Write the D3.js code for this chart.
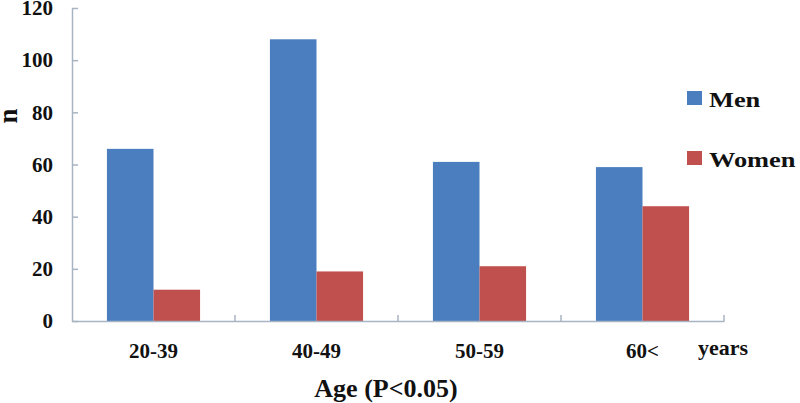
<!DOCTYPE html>
<html>
<head>
<meta charset="utf-8">
<script src="https://cdn.jsdelivr.net/npm/d3@7"></script>
<style>
  body { margin: 0; background: #fff; }
  svg text { font-family: "Liberation Serif", "Times New Roman", serif; font-weight: bold; fill: #111; }
</style>
</head>
<body>
<svg id="chart" width="800" height="403"></svg>
<script>
var categories = ["20-39", "40-49", "50-59", "60<"];
var series = ["Men", "Women"];
var men = [66, 108, 61, 59];
var women = [12, 19, 21, 44];
var yTicks = [0, 20, 40, 60, 80, 100, 120];
var colors = ["#4a7ebf", "#c0504d"];

var svg = d3.select("#chart");
var plotLeft = 72, plotRight = 724, plotTop = 8, plotBottom = 321;
var axisColor = "#a9b4c2";

var x0 = d3.scaleBand().domain(categories).range([plotLeft, plotRight]);
var x1 = d3.scaleBand().domain(series).range([0, x0.bandwidth()]).paddingOuter(0.75);
var y = d3.scaleLinear().domain([0, 120]).range([plotBottom, plotTop]);
var color = d3.scaleOrdinal().domain(series).range(colors);

var rows = categories.map(function (c, i) {
  return { cat: c, values: [{ s: "Men", v: men[i] }, { s: "Women", v: women[i] }] };
});

// bars
svg.append("g")
  .selectAll("g")
  .data(rows)
  .enter()
  .append("g")
  .attr("transform", function (d) { return "translate(" + x0(d.cat) + ",0)"; })
  .selectAll("rect")
  .data(function (d) { return d.values; })
  .enter()
  .append("rect")
  .attr("x", function (d) { return x1(d.s); })
  .attr("y", function (d) { return y(d.v); })
  .attr("width", x1.bandwidth())
  .attr("height", function (d) { return plotBottom - y(d.v); })
  .attr("fill", function (d) { return color(d.s); });

// y axis
var yAxis = svg.append("g")
  .attr("transform", "translate(" + plotLeft + ",0)")
  .call(d3.axisLeft(y).tickValues(yTicks).tickSizeInner(-6).tickSizeOuter(0));
yAxis.select(".domain").attr("stroke", axisColor).attr("stroke-width", 1.5);
yAxis.selectAll(".tick line").attr("stroke", axisColor).attr("stroke-width", 1.5);
yAxis.selectAll(".tick text")
  .attr("x", -19)
  .style("font-size", "21px")
  .style("font-family", "Liberation Serif")
  .style("font-weight", "bold")
  .attr("fill", "#111");

// x axis
var xAxis = svg.append("g")
  .attr("transform", "translate(0," + plotBottom + ")")
  .call(d3.axisBottom(x0).tickSize(0).tickPadding(22));
xAxis.select(".domain").attr("stroke", axisColor).attr("stroke-width", 1.5);
xAxis.selectAll(".tick text")
  .style("font-size", "21px")
  .style("font-family", "Liberation Serif")
  .style("font-weight", "bold")
  .attr("fill", "#111");

// category boundary ticks
svg.append("g")
  .selectAll("line")
  .data(categories.slice(1).concat(["end"]))
  .enter()
  .append("line")
  .attr("x1", function (d) { return d === "end" ? plotRight : x0(d); })
  .attr("x2", function (d) { return d === "end" ? plotRight : x0(d); })
  .attr("y1", plotBottom)
  .attr("y2", plotBottom - 6)
  .attr("stroke", axisColor)
  .attr("stroke-width", 1.5);

svg.append("text")
  .attr("x", 698)
  .attr("y", 355)
  .style("font-size", "22px")
  .text("years");

svg.append("text")
  .attr("x", 386)
  .attr("y", 397)
  .attr("text-anchor", "middle")
  .style("font-size", "26px")
  .text("Age (P<0.05)");

svg.append("text")
  .attr("transform", "translate(17,116) rotate(-90)")
  .attr("text-anchor", "middle")
  .style("font-size", "27px")
  .text("n");

// legend
var legendY = [91, 151];
var legend = svg.append("g")
  .selectAll("g")
  .data(series)
  .enter()
  .append("g")
  .attr("transform", function (d, i) { return "translate(687," + legendY[i] + ")"; });
legend.append("rect")
  .attr("width", 15)
  .attr("height", 14)
  .attr("fill", function (d) { return color(d); });
legend.append("text")
  .attr("transform", "translate(22,16) scale(1.2,1)")
  .style("font-size", "22px")
  .text(function (d) { return d; });
</script>
</body>
</html>
